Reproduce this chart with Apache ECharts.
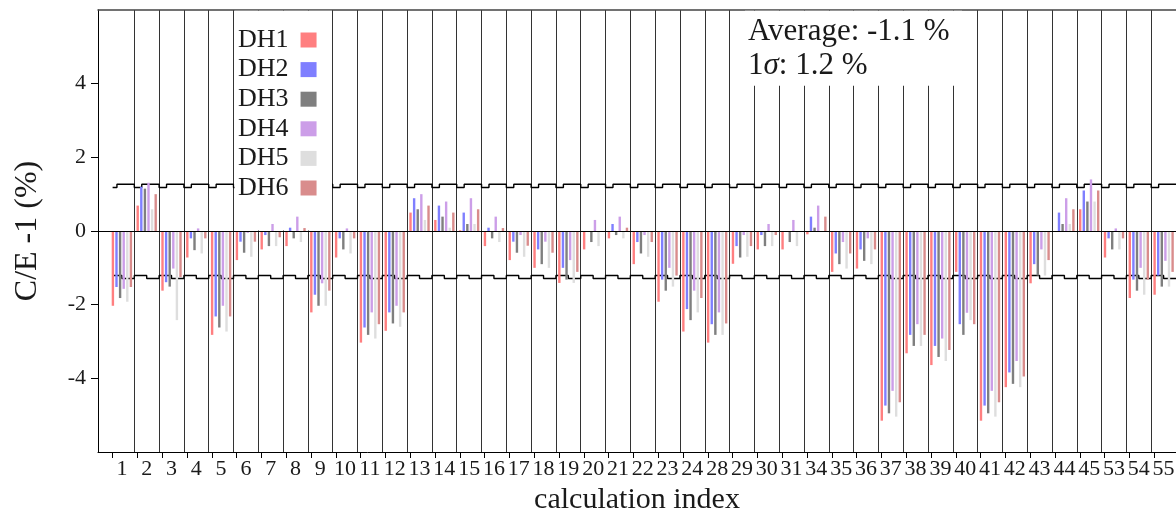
<!DOCTYPE html>
<html>
<head>
<meta charset="utf-8">
<script src="https://cdn.jsdelivr.net/npm/echarts@6/dist/echarts.min.js"></script>
<style>
  html, body { margin: 0; padding: 0; background: #fff; overflow: hidden; }
  #chart { width: 1176px; height: 514px; }
</style>
</head>
<body>
<div id="chart"></div>
<script>
// ---------------- data ----------------
const categories = ['1','2','3','4','5','6','7','8','9','10','11','12','13','14','15','16','17','18','19','20','21','22','23','24','28','29','30','31','34','35','36','37','38','39','40','41','42','43','44','45','53','54','55'];

const DH1 = [-2.03, 0.69, -1.62, -0.72, -2.82, -0.79, -0.50, -0.41, -2.21, -0.72, -3.03, -2.71, 0.50, 0.30, 0.02, -0.41, -0.79, -1.00, -1.41, -0.50, -0.20, -0.90, -1.92, -2.73, -3.03, -0.89, -0.50, -0.50, -0.09, -1.11, -1.02, -5.15, -3.32, -3.64, -1.11, -5.15, -4.24, -1.42, 0.00, 0.59, -0.72, -1.82, -1.73];
const DH2 = [-1.52, 1.20, -1.39, -0.20, -2.32, -0.29, -0.11, 0.09, -1.73, -0.20, -2.62, -2.21, 0.89, 0.69, 0.50, 0.09, -0.29, -0.50, -1.00, 0.00, 0.19, -0.30, -1.32, -2.12, -2.53, -0.41, -0.11, 0.00, 0.39, -0.61, -0.50, -4.74, -2.82, -3.12, -2.53, -4.74, -3.84, -0.90, 0.50, 1.10, -0.20, -1.32, -1.21];
const DH3 = [-1.82, 1.15, -1.51, -0.52, -2.62, -0.59, -0.41, -0.20, -2.03, -0.50, -2.82, -2.51, 0.59, 0.39, 0.19, -0.20, -0.59, -0.90, -1.32, -0.30, -0.11, -0.61, -1.62, -2.42, -2.82, -0.72, -0.41, -0.30, 0.09, -0.90, -0.81, -4.95, -3.12, -3.42, -2.82, -4.95, -4.15, -1.21, 0.19, 0.80, -0.50, -1.62, -1.51];
const DH4 = [-1.57, 1.31, -1.02, 0.07, -2.03, -0.05, 0.19, 0.39, -1.42, 0.07, -2.21, -2.03, 1.00, 0.80, 0.89, 0.39, -0.11, -0.29, -0.79, 0.30, 0.39, -0.11, -1.00, -1.62, -2.21, -0.11, 0.19, 0.30, 0.69, -0.30, -0.20, -4.34, -2.53, -2.92, -2.22, -4.34, -3.53, -0.50, 0.89, 1.40, 0.07, -1.00, -0.81];
const DH5 = [-1.92, 0.59, -2.42, -0.61, -2.73, -0.70, -0.41, -0.30, -2.03, -0.61, -2.92, -2.60, 0.30, 0.09, 0.19, -0.30, -0.70, -1.00, -1.41, -0.41, -0.20, -0.70, -1.51, -2.21, -2.82, -0.70, -0.41, -0.41, 0.00, -1.02, -0.90, -5.04, -3.12, -3.53, -2.42, -5.04, -4.24, -1.21, 0.19, 0.80, -0.50, -1.73, -1.51];
const DH6 = [-1.52, 1.00, -1.25, -0.20, -2.32, -0.29, -0.17, 0.08, -1.62, -0.20, -2.53, -2.21, 0.69, 0.50, 0.59, 0.08, -0.40, -0.59, -1.11, 0.00, 0.09, -0.30, -1.21, -1.82, -2.51, -0.41, -0.11, 0.00, 0.39, -0.61, -0.50, -4.65, -2.82, -3.23, -2.53, -4.65, -3.95, -0.79, 0.59, 1.10, -0.20, -1.32, -1.11];

const seriesNames = ['DH1', 'DH2', 'DH3', 'DH4', 'DH5', 'DH6'];
const seriesColors = ['#ff7f80', '#7f7fff', '#7f7f7f', '#cc9ee8', '#dedede', '#d98c8c'];

// +/- 1 sigma band, drawn as a small step in each cell
const bandUpperSteps = [1.18, 1.27];   // [low part, high part]
const bandLowerSteps = [-1.21, -1.29]; // [high part, low part]

const yTickValues = [-4, -2, 0, 2, 4];
const annotationLines = ['Average: -1.1 %', '1{s|σ}: 1.2 %'];

// ---------------- layout ----------------
const W = 1176;
const frameLeft = 98, barLeft = 109.5, gTop = 10, gBottom = 62;
const nCat = categories.length;
const cellW = (W - barLeft) / nCat;
const uMin = 0.5 - (barLeft - frameLeft) / cellW;
const uMax = nCat + 0.5;
const FONT = 'Liberation Serif';
const TXT = '#1a1a1a';

// step line points (in cell units: category i centred at u = i)
const upperPts = [], lowerPts = [];
for (let i = 1; i <= nCat; i++) {
  const s = (i === 1) ? 0.625 : i - 0.5;
  upperPts.push([s, bandUpperSteps[0]], [i - 0.2, bandUpperSteps[0]], [i - 0.2, bandUpperSteps[1]], [i + 0.5, bandUpperSteps[1]]);
  lowerPts.push([s, bandLowerSteps[0]], [i, bandLowerSteps[0]], [i, bandLowerSteps[1]], [i + 0.5, bandLowerSteps[1]]);
}
const tickPos = categories.map((c, k) => k + 1 - 0.375);

const dataSets = [DH1, DH2, DH3, DH4, DH5, DH6];
const barSeries = seriesNames.map((n, k) => ({
  name: n,
  type: 'bar',
  xAxisIndex: 2,
  yAxisIndex: 1,
  data: dataSets[k],
  barWidth: 2.4,
  barGap: '50%',
  itemStyle: { color: seriesColors[k] },
  z: 3,
  animation: false
}));

const chart = echarts.init(document.getElementById('chart'), null, { renderer: 'canvas' });
chart.setOption({
  backgroundColor: '#fff',
  animation: false,
  grid: [
    { left: frameLeft, right: 0, top: gTop, bottom: gBottom, containLabel: false, outerBoundsMode: 'none' },
    { left: barLeft, right: 0, top: gTop, bottom: gBottom, containLabel: false, outerBoundsMode: 'none' }
  ],
  xAxis: [
    {
      gridIndex: 0, type: 'value', min: uMin, max: uMax,
      axisLine: { show: true, onZero: false, lineStyle: { color: '#000', width: 1 } },
      axisTick: { show: true, length: 6, customValues: tickPos, lineStyle: { color: '#000' } },
      axisLabel: { show: false },
      splitLine: { show: false },
      name: 'calculation index', nameLocation: 'middle', nameGap: 33,
      nameTextStyle: { fontFamily: FONT, fontSize: 30, color: TXT }
    },
    {
      gridIndex: 0, type: 'value', position: 'top', min: uMin, max: uMax,
      axisLine: { show: true, onZero: false, lineStyle: { color: '#444', width: 1.5 } },
      axisTick: { show: false }, axisLabel: { show: false }, splitLine: { show: false }
    },
    {
      gridIndex: 1, type: 'category', data: categories,
      axisLine: { show: false, onZero: false }, axisTick: { show: false },
      axisLabel: { interval: 0, margin: 6, fontFamily: FONT, fontSize: 22, color: TXT },
      splitLine: { show: true, showMinLine: false, lineStyle: { color: '#333', width: 1 } }
    }
  ],
  yAxis: [
    {
      gridIndex: 0, type: 'value', min: -6, max: 6, interval: 2,
      axisLine: { show: true, onZero: false, lineStyle: { color: '#000', width: 1 } },
      axisTick: { show: true, length: 7, customValues: yTickValues, lineStyle: { color: '#000' } },
      axisLabel: { customValues: yTickValues, margin: 12, fontFamily: FONT, fontSize: 22, color: TXT },
      splitLine: { show: false },
      name: 'C/E -1 (%)', nameLocation: 'middle', nameGap: 54,
      nameTextStyle: { fontFamily: FONT, fontSize: 32, color: TXT }
    },
    { gridIndex: 1, type: 'value', min: -6, max: 6, show: false }
  ],
  legend: {
    data: seriesNames,
    orient: 'vertical',
    left: 238, top: 27,
    padding: 0,
    align: 'right',
    icon: 'rect',
    itemWidth: 16, itemHeight: 15, itemGap: 3.6,
    selectedMode: false,
    textStyle: { fontFamily: FONT, fontSize: 26, color: TXT, padding: [0, 7, 0, 0] },
    z: 10
  },
  graphic: [
    { type: 'rect', silent: true, z: 2, shape: { x: 234.5, y: 10.8, width: 97.5, height: 219.7 }, style: { fill: '#fff' } },
    { type: 'rect', silent: true, z: 2, shape: { x: 745, y: 10.8, width: 217, height: 75 }, style: { fill: '#fff' } },
    { type: 'text', silent: true, z: 10, x: 748, y: 32,
      style: { text: annotationLines[0], font: '31px "' + FONT + '"', fill: TXT, verticalAlign: 'middle' } },
    { type: 'text', silent: true, z: 10, x: 748, y: 66,
      style: { text: annotationLines[1], font: '31px "' + FONT + '"', fill: TXT, verticalAlign: 'middle',
        rich: { s: { fontStyle: 'italic', fontFamily: FONT, fontSize: 31, fill: TXT } } } }
  ],
  series: [
    ...barSeries,
    {
      type: 'line', xAxisIndex: 0, yAxisIndex: 0, data: upperPts,
      showSymbol: false, symbol: 'none', lineStyle: { color: '#000', width: 1.4 }, z: 1, silent: true,
      markLine: {
        silent: true, symbol: ['none', 'none'], label: { show: false },
        lineStyle: { color: '#000', width: 1, type: 'solid' },
        data: [{ yAxis: 0 }]
      }
    },
    {
      type: 'line', xAxisIndex: 0, yAxisIndex: 0, data: lowerPts,
      showSymbol: false, symbol: 'none', lineStyle: { color: '#000', width: 1.4 }, z: 1, silent: true
    }
  ]
});
</script>
</body>
</html>
